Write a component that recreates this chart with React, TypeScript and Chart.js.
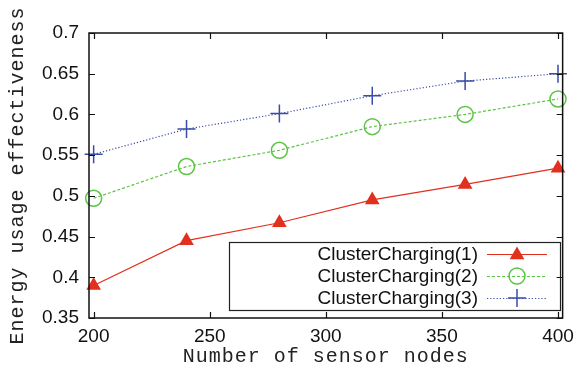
import React, { useEffect, useRef } from 'react';
import { Chart, registerables } from 'chart.js';

Chart.register(...registerables);

const xValues = [200, 240, 280, 320, 360, 400];
const cc1 = [0.390, 0.445, 0.467, 0.495, 0.514, 0.534];
const cc2 = [0.497, 0.536, 0.556, 0.585, 0.600, 0.619];
const cc3 = [0.551, 0.582, 0.601, 0.623, 0.641, 0.650];
const seriesNames = ['ClusterCharging(1)', 'ClusterCharging(2)', 'ClusterCharging(3)'];
const xTicks = [200, 250, 300, 350, 400];
const yTicks = [0.35, 0.4, 0.45, 0.5, 0.55, 0.6, 0.65, 0.7];
const xTitle = 'Number of sensor nodes';
const yTitle = 'Energy usage effectiveness';

const RED = '#e2301f';
const GREEN = '#5cc444';
const BLUE = '#3a4ca8';

const SANS = '"Liberation Sans", Arial, sans-serif';
const MONO = '"Liberation Mono", "Courier New", monospace';

function drawMarker(ctx: CanvasRenderingContext2D, style: string, x: number, y: number, color: string) {
  ctx.save();
  ctx.strokeStyle = color;
  ctx.fillStyle = color;
  if (style === 'triangle') {
    const r = 8.5;
    ctx.beginPath();
    ctx.moveTo(x, y - r);
    ctx.lineTo(x + r * 0.866, y + r / 2);
    ctx.lineTo(x - r * 0.866, y + r / 2);
    ctx.closePath();
    ctx.fill();
  } else if (style === 'circle') {
    ctx.lineWidth = 1.5;
    ctx.beginPath();
    ctx.arc(x, y, 8, 0, Math.PI * 2);
    ctx.stroke();
  } else {
    ctx.lineWidth = 1.5;
    ctx.beginPath();
    ctx.moveTo(x - 9, y);
    ctx.lineTo(x + 9, y);
    ctx.moveTo(x, y - 9);
    ctx.lineTo(x, y + 9);
    ctx.stroke();
  }
  ctx.restore();
}

const framePlugin = {
  id: 'framePlugin',
  afterDatasetsDraw(chart: any) {
    const ctx: CanvasRenderingContext2D = chart.ctx;
    const { left, right, top, bottom } = chart.chartArea;
    const xs = chart.scales.x;
    const ys = chart.scales.y;
    ctx.save();
    // legend box
    const lx0 = 229, lx1 = 560, ly0 = 242, ly1 = 310;
    ctx.fillStyle = '#ffffff';
    ctx.fillRect(lx0, ly0, lx1 - lx0, ly1 - ly0);
    ctx.strokeStyle = '#222';
    ctx.lineWidth = 1.2;
    ctx.strokeRect(lx0 + 0.5, ly0 + 0.5, lx1 - lx0, ly1 - ly0);
    const rows = [254, 276, 298];
    const colors = [RED, GREEN, BLUE];
    const dashes = [[], [3, 2], [1.2, 2]];
    const styles = ['triangle', 'circle', 'cross'];
    ctx.font = '19px ' + SANS;
    ctx.textAlign = 'right';
    ctx.textBaseline = 'middle';
    for (let i = 0; i < 3; i++) {
      ctx.fillStyle = '#111';
      ctx.fillText(seriesNames[i], 478, rows[i] + 1);
      ctx.strokeStyle = colors[i];
      ctx.lineWidth = 1.2;
      ctx.setLineDash(dashes[i]);
      ctx.beginPath();
      ctx.moveTo(487, rows[i] + 0.5);
      ctx.lineTo(547, rows[i] + 0.5);
      ctx.stroke();
      ctx.setLineDash([]);
      drawMarker(ctx, styles[i], 517, rows[i] + (i === 0 ? 1 : 0), colors[i]);
    }
    // frame
    ctx.strokeStyle = '#111';
    ctx.lineWidth = 1.5;
    ctx.strokeRect(left, top, right - left, bottom - top);
    ctx.lineWidth = 1.2;
    ctx.beginPath();
    for (const t of xTicks) {
      const px = Math.round(xs.getPixelForValue(t)) + 0.5;
      ctx.moveTo(px, bottom);
      ctx.lineTo(px, bottom - 6);
      ctx.moveTo(px, top);
      ctx.lineTo(px, top + 6);
    }
    for (const t of yTicks) {
      const py = Math.round(ys.getPixelForValue(t)) + 0.5;
      ctx.moveTo(left, py);
      ctx.lineTo(left + 6, py);
      ctx.moveTo(right, py);
      ctx.lineTo(right - 6, py);
    }
    ctx.stroke();
    // titles
    ctx.fillStyle = '#222';
    ctx.font = '20px ' + MONO;
    (ctx as any).letterSpacing = '1px';
    ctx.textAlign = 'center';
    ctx.textBaseline = 'middle';
    ctx.fillText(xTitle, (left + right) / 2, 357);
    ctx.translate(18, (top + bottom) / 2);
    ctx.rotate(-Math.PI / 2);
    ctx.fillText(yTitle, 0, 0);
    ctx.restore();
  },
};

export default function App() {
  const ref = useRef<HTMLCanvasElement | null>(null);
  useEffect(() => {
    if (!ref.current) return;
    const mk = (label: string, data: number[], color: string, style: string, dash: number[], radius: number, fill: boolean) => ({
      label,
      data: xValues.map((x, i) => ({ x, y: data[i] })),
      borderColor: color,
      backgroundColor: fill ? color : 'rgba(0,0,0,0)',
      pointBorderColor: color,
      pointBackgroundColor: fill ? color : 'rgba(0,0,0,0)',
      pointStyle: style,
      pointRadius: radius,
      pointBorderWidth: fill ? 0 : 1.5,
      borderWidth: 1.2,
      borderDash: dash,
      clip: false as any,
    });
    const chart = new Chart(ref.current, {
      type: 'line',
      data: {
        datasets: [
          mk(seriesNames[0], cc1, RED, 'triangle', [], 8.5, true),
          mk(seriesNames[1], cc2, GREEN, 'circle', [3, 2], 8, false),
          mk(seriesNames[2], cc3, BLUE, 'cross', [1.2, 2], 9, false),
        ] as any,
      },
      options: {
        responsive: false,
        animation: false,
        layout: { padding: { left: 0, right: 16, top: 33, bottom: 0 } },
        plugins: { legend: { display: false }, tooltip: { enabled: false } },
        scales: {
          x: {
            type: 'linear',
            min: 198,
            max: 402,
            afterBuildTicks: (s: any) => { s.ticks = xTicks.map((v) => ({ value: v })); },
            afterFit: (s: any) => { s.height = 50; },
            grid: { display: false, drawTicks: false },
            border: { display: false },
            ticks: {
              color: '#111',
              font: { family: SANS, size: 19 },
              padding: 7,
              maxRotation: 0,
              callback: (v: any) => String(v),
            },
          },
          y: {
            type: 'linear',
            min: 0.35,
            max: 0.7,
            afterBuildTicks: (s: any) => { s.ticks = yTicks.map((v) => ({ value: v })); },
            afterFit: (s: any) => { s.width = 89; },
            grid: { display: false, drawTicks: false },
            border: { display: false },
            ticks: {
              color: '#111',
              font: { family: SANS, size: 19 },
              padding: 10,
              callback: (v: any) => String(Number(Number(v).toFixed(2))),
            },
          },
        },
      },
      plugins: [framePlugin],
    });
    return () => chart.destroy();
  }, []);
  return (
    <div style={{ position: 'absolute', left: 0, top: 0, width: 581, height: 368, background: '#fff' }}>
      <canvas ref={ref} width={581} height={368} style={{ display: 'block', width: 581, height: 368 }} />
    </div>
  );
}
